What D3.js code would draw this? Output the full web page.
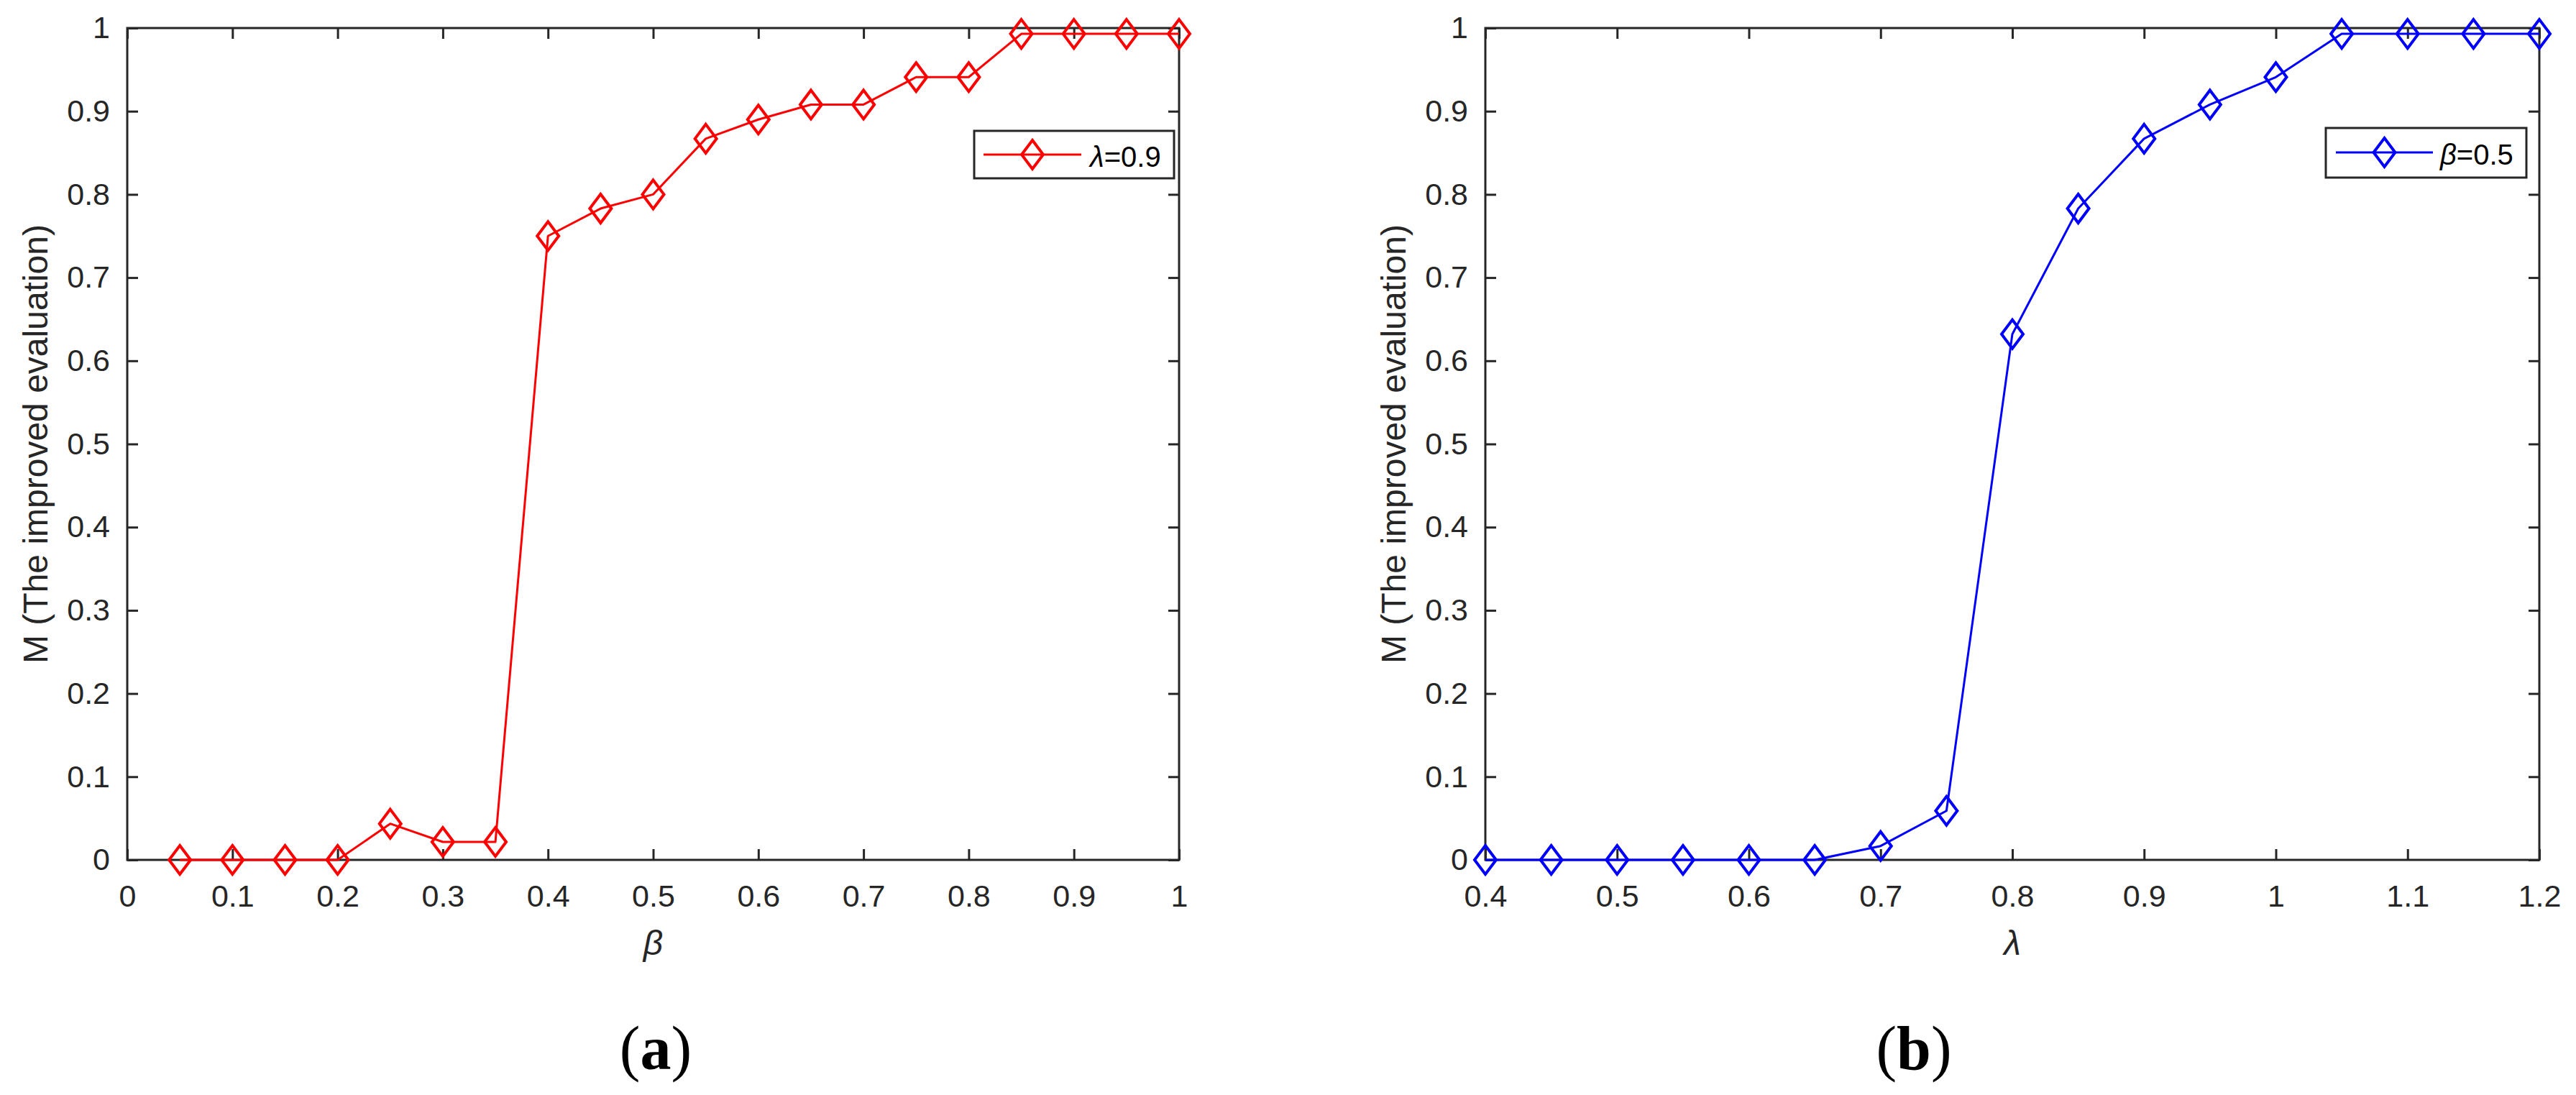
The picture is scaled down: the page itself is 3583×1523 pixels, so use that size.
<!DOCTYPE html>
<html><head><meta charset="utf-8">
<script src="https://cdn.jsdelivr.net/npm/d3@7"></script>
<style>body{margin:0;background:#fff}svg{display:block}</style>
</head><body>
<svg id="c" width="3583" height="1523"></svg>
<script>
// ---- data ----
const betaValues = [0.05,0.10,0.15,0.20,0.25,0.30,0.35,0.40,0.45,0.50,0.55,0.60,0.65,0.70,0.75,0.80,0.85,0.90,0.95,1.00];
const mBeta      = [0,0,0,0,0.0435,0.0216,0.0216,0.750,0.783,0.800,0.867,0.890,0.908,0.908,0.941,0.941,0.993,0.993,0.993,0.993];
const lambdaValues = [0.40,0.45,0.50,0.55,0.60,0.65,0.70,0.75,0.80,0.85,0.90,0.95,1.00,1.05,1.10,1.15,1.20];
const mLambda      = [0,0,0,0,0,0,0.0167,0.059,0.632,0.783,0.867,0.908,0.941,0.993,0.993,0.993,0.993];
const xTicksA = [0,0.1,0.2,0.3,0.4,0.5,0.6,0.7,0.8,0.9,1];
const xTickLabelsA = ["0","0.1","0.2","0.3","0.4","0.5","0.6","0.7","0.8","0.9","1"];
const xTicksB = [0.4,0.5,0.6,0.7,0.8,0.9,1.0,1.1,1.2];
const xTickLabelsB = ["0.4","0.5","0.6","0.7","0.8","0.9","1","1.1","1.2"];
const yTicks = [0,0.1,0.2,0.3,0.4,0.5,0.6,0.7,0.8,0.9,1];
const yTickLabels = ["0","0.1","0.2","0.3","0.4","0.5","0.6","0.7","0.8","0.9","1"];
const yLabel = "M (The improved evaluation)";
const legendA = {sym:"λ", rest:"=0.9"};
const legendB = {sym:"β", rest:"=0.5"};
const xLabelA = "β", xLabelB = "λ";
const panelA = "a", panelB = "b";

const svg = d3.select("#c");
svg.append("rect").attr("width",3583).attr("height",1523).attr("fill","#fff");
const AX = "#262626";
const FONT = "'Liberation Sans', Arial, sans-serif";

function panel(o){
  const g = svg.append("g");
  const x = d3.scaleLinear().domain(o.xDomain).range([o.left,o.right]);
  const y = d3.scaleLinear().domain([0,1]).range([o.bottom,o.top]);
  g.append("rect").attr("x",o.left).attr("y",o.top)
    .attr("width",o.right-o.left).attr("height",o.bottom-o.top)
    .attr("fill","none").attr("stroke",AX).attr("stroke-width",3);
  const styleAxis = sel => {
    sel.select(".domain").remove();
    sel.selectAll("line").attr("stroke",AX).attr("stroke-width",3);
    sel.selectAll("text").attr("fill",AX).attr("font-family",FONT).attr("font-size",43);
  };
  g.append("g").attr("transform",`translate(0,${o.bottom})`)
    .call(d3.axisBottom(x).tickValues(o.xTicks).tickFormat((d,i)=>o.xLabels[i]).tickSizeInner(-15).tickSizeOuter(0).tickPadding(34))
    .call(styleAxis);
  g.append("g").attr("transform",`translate(0,${o.top})`)
    .call(d3.axisTop(x).tickValues(o.xTicks).tickFormat("").tickSizeInner(-15).tickSizeOuter(0))
    .call(styleAxis);
  g.append("g").attr("transform",`translate(${o.left},0)`)
    .call(d3.axisLeft(y).tickValues(yTicks).tickFormat((d,i)=>yTickLabels[i]).tickSizeInner(-15).tickSizeOuter(0).tickPadding(24))
    .call(styleAxis);
  g.append("g").attr("transform",`translate(${o.right},0)`)
    .call(d3.axisRight(y).tickValues(yTicks).tickFormat("").tickSizeInner(-15).tickSizeOuter(0))
    .call(styleAxis);
  g.append("text").attr("transform",`translate(${o.left-111},${(o.top+o.bottom)/2}) rotate(-90)`)
    .attr("text-anchor","middle").attr("font-family",FONT).attr("font-size",48).attr("fill",AX)
    .text(yLabel);
  g.append("text").attr("x",(o.left+o.right)/2).attr("y",1328)
    .attr("text-anchor","middle").attr("font-family",FONT).attr("font-size",48)
    .attr("font-style","italic").attr("fill",AX).text(o.xLabel);
  const pts = o.xs.map((v,i)=>[x(v),y(o.ys[i])]);
  g.append("path").attr("d",d3.line()(pts)).attr("fill","none")
    .attr("stroke",o.color).attr("stroke-width",3).attr("stroke-linejoin","round");
  const diamond = (cx,cy)=>`M${cx},${cy-20}L${cx+15},${cy}L${cx},${cy+20}L${cx-15},${cy}Z`;
  g.selectAll(null).data(pts).enter().append("path")
    .attr("d",p=>diamond(p[0],p[1])).attr("fill","none")
    .attr("stroke",o.color).attr("stroke-width",4);
  const L = o.legend;
  g.append("rect").attr("x",L.x0).attr("y",L.y0).attr("width",L.x1-L.x0).attr("height",L.y1-L.y0)
    .attr("fill","#fff").attr("stroke",AX).attr("stroke-width",3);
  g.append("line").attr("x1",L.lx0).attr("x2",L.lx1).attr("y1",L.ly).attr("y2",L.ly)
    .attr("stroke",o.color).attr("stroke-width",3);
  g.append("path").attr("d",diamond((L.lx0+L.lx1)/2,L.ly)).attr("fill","none")
    .attr("stroke",o.color).attr("stroke-width",4);
  const t = g.append("text").attr("x",L.tx).attr("y",L.ty).attr("font-family",FONT)
    .attr("font-size",40).attr("fill","#000");
  t.append("tspan").attr("font-style","italic").text(o.legText.sym);
  t.append("tspan").text(o.legText.rest);
  const p = g.append("text").attr("x",o.panelX).attr("y",1487).attr("text-anchor","middle")
    .attr("font-family","'Liberation Serif','Times New Roman',serif").attr("font-size",86).attr("fill","#000");
  p.append("tspan").text("(");
  p.append("tspan").attr("font-weight","bold").text(o.panel);
  p.append("tspan").text(")");
}

panel({left:177,right:1640,top:39,bottom:1196,xDomain:[0,1],xTicks:xTicksA,xLabels:xTickLabelsA,
  xs:betaValues,ys:mBeta,color:"#ff0000",xLabel:xLabelA,legText:legendA,panel:panelA,panelX:912,
  legend:{x0:1355,x1:1633,y0:182,y1:248,lx0:1368,lx1:1504,ly:215,tx:1516,ty:232}});
panel({left:2066,right:3532,top:39,bottom:1196,xDomain:[0.4,1.2],xTicks:xTicksB,xLabels:xTickLabelsB,
  xs:lambdaValues,ys:mLambda,color:"#0000ff",xLabel:xLabelB,legText:legendB,panel:panelB,panelX:2662,
  legend:{x0:3235,x1:3514,y0:178,y1:247,lx0:3249,lx1:3384,ly:212,tx:3394,ty:229}});
</script>
</body></html>
